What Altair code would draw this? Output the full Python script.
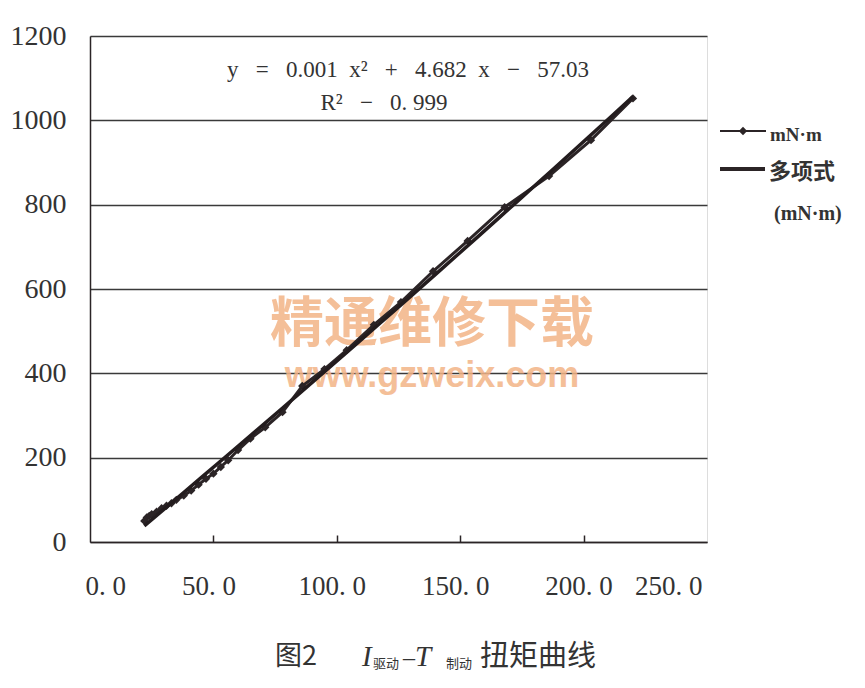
import altair as alt
import pandas as pd

# measured data (I drive current vs braking torque, mN·m)
x_vals = [22, 23, 24, 25, 27, 29, 31, 33, 35, 38, 41, 44, 47, 50, 53, 56, 60, 65,
          71, 78, 86, 95, 104, 115, 126, 139, 153, 168, 186, 203, 220]
y_vals = [50, 58, 62, 66, 72, 80, 86, 92, 100, 110, 122, 136, 150, 162, 178, 194, 218, 245,
          272, 308, 370, 410, 455, 515, 569, 642, 714, 794, 868, 953, 1052]
x_ticks = [0, 50, 100, 150, 200, 250]
y_ticks = [0, 200, 400, 600, 800, 1000, 1200]

NB = "\u00a0"
equation = f"y{NB*3}={NB*3}0.001{NB*2}x²{NB*3}+{NB*3}4.682{NB*2}x{NB*3}−{NB*3}57.03"
r2_text = f"R²{NB*3}−{NB*3}0.{NB}999"
legend_labels = ["mN·m", "多项式", "(mN·m)"]
caption_parts = ["图2", "I", "驱动", "–", "T", "制动", "扭矩曲线"]
watermark = ["精通维修下载", "www.gzweix.com"]

W, H = 617, 506
INK = "#2b2426"
SERIF = "Liberation Serif"
CJK = "Noto Sans CJK SC"

df = pd.DataFrame({"x": x_vals, "y": y_vals})
xs = alt.Scale(domain=[0, 250], nice=False)
ys = alt.Scale(domain=[0, 1200], nice=False)

base = alt.Chart(df)

x_axis = alt.Axis(values=x_ticks, grid=False, ticks=False, domainColor=INK, domainWidth=1.5,
                  labelFont=SERIF, labelFontSize=27, labelColor="#333",
                  labelPadding=31, labelOffset=-5, title=None,
                  labelExpr="replace(format(datum.value, '.1f'), '.', '. ')")
# inward-pointing ticks: a top-oriented axis shifted down onto the bottom edge
x_tick_axis = alt.Axis(orient="top", offset=-H, values=x_ticks[1:-1], labels=False, domain=False,
                       ticks=True, tickSize=7, tickWidth=1.5, tickColor=INK, grid=False, title=None)
y_axis = alt.Axis(values=y_ticks, grid=True, gridColor="#3a3a3a", gridWidth=1.5, gridOpacity=1,
                  ticks=False, domainColor=INK, domainWidth=1.5, format="d",
                  labelFont=SERIF, labelFontSize=28, labelColor="#333",
                  labelPadding=24, title=None)

data_line = base.mark_line(color=INK, strokeWidth=3).encode(
    x=alt.X("x:Q", scale=xs, axis=x_axis),
    y=alt.Y("y:Q", scale=ys, axis=y_axis),
)
data_pts = base.mark_point(shape="diamond", filled=True, color=INK, size=70, opacity=1).encode(
    x=alt.X("x:Q", scale=xs, axis=x_tick_axis), y=alt.Y("y:Q", scale=ys)
)
trend = base.transform_regression("x", "y", method="poly", order=2).mark_line(
    color="#231c1e", strokeWidth=3.5
).encode(x=alt.X("x:Q", scale=xs, axis=None), y=alt.Y("y:Q", scale=ys))

# equation text
eq1 = alt.Chart(pd.DataFrame({"t": [equation]})).mark_text(
    font=SERIF, fontSize=23, color="#333", align="center", baseline="middle"
).encode(text="t:N", x=alt.value(318), y=alt.value(34))
eq2 = alt.Chart(pd.DataFrame({"t": [r2_text]})).mark_text(
    font=SERIF, fontSize=23, color="#333", align="center", baseline="middle"
).encode(text="t:N", x=alt.value(294), y=alt.value(67))

# legend (manual)
leg_line1 = alt.Chart(pd.DataFrame({"a": [0]})).mark_rule(color=INK, strokeWidth=2).encode(
    x=alt.value(630), x2=alt.value(676), y=alt.value(95))
leg_pt = alt.Chart(pd.DataFrame({"a": [0]})).mark_point(shape="diamond", filled=True, color=INK, size=70, opacity=1).encode(
    x=alt.value(653), y=alt.value(95))
leg_line2 = alt.Chart(pd.DataFrame({"a": [0]})).mark_rule(color=INK, strokeWidth=4).encode(
    x=alt.value(630), x2=alt.value(675), y=alt.value(133))
leg_t1 = alt.Chart(pd.DataFrame({"t": [legend_labels[0]]})).mark_text(
    font=SERIF, fontSize=19, fontWeight="bold", color="#333", align="left", baseline="middle"
).encode(text="t:N", x=alt.value(680), y=alt.value(99))
leg_t2 = alt.Chart(pd.DataFrame({"t": [legend_labels[1]]})).mark_text(
    font=CJK, fontSize=22, fontWeight="bold", color="#333", align="left", baseline="middle"
).encode(text="t:N", x=alt.value(679), y=alt.value(136))
leg_t3 = alt.Chart(pd.DataFrame({"t": [legend_labels[2]]})).mark_text(
    font=SERIF, fontSize=20, fontWeight="bold", color="#333", align="left", baseline="middle"
).encode(text="t:N", x=alt.value(684), y=alt.value(178))

# caption
cap_specs = [
    (caption_parts[0], 185, 621, 27, CJK, "normal"),
    (caption_parts[1], 272, 621, 29, SERIF, "italic"),
    (caption_parts[2], 283, 628, 13, CJK, "normal"),
    (caption_parts[3], 313, 622, 24, SERIF, "normal"),
    (caption_parts[4], 325, 621, 29, SERIF, "italic"),
    (caption_parts[5], 356, 628, 13, CJK, "normal"),
    (caption_parts[6], 390, 621, 29, CJK, "normal"),
]
caps = []
for t, cx, cy, fs, ff, st in cap_specs:
    caps.append(alt.Chart(pd.DataFrame({"t": [t]})).mark_text(
        font=ff, fontSize=fs, fontStyle=st, color="#333", align="left", baseline="middle"
    ).encode(text="t:N", x=alt.value(cx), y=alt.value(cy)))

# watermark
wm1 = alt.Chart(pd.DataFrame({"t": [watermark[0]]})).mark_text(
    font=CJK, fontSize=54, fontWeight="bold", color="#F3B487", opacity=0.85, align="center", baseline="middle"
).encode(text="t:N", x=alt.value(342), y=alt.value(290))
wm2 = alt.Chart(pd.DataFrame({"t": [watermark[1]]})).mark_text(
    font="Liberation Sans", fontSize=36, fontWeight="bold", color="#F3B487", opacity=0.85,
    align="center", baseline="middle"
).encode(text="t:N", x=alt.value(342), y=alt.value(340))

chart = alt.layer(
    wm1, wm2, data_line, data_pts, trend, eq1, eq2,
    leg_line1, leg_pt, leg_line2, leg_t1, leg_t2, leg_t3, *caps
).resolve_axis(x="independent").properties(
    width=W, height=H,
    autosize=alt.AutoSizeParams(type="none"),
    padding={"left": 82, "top": 28, "right": 150, "bottom": 138},
).configure_view(stroke="#555", strokeWidth=1.2).configure(background="white")

chart.save("out.html", embed_options={"renderer": "svg", "actions": False})
